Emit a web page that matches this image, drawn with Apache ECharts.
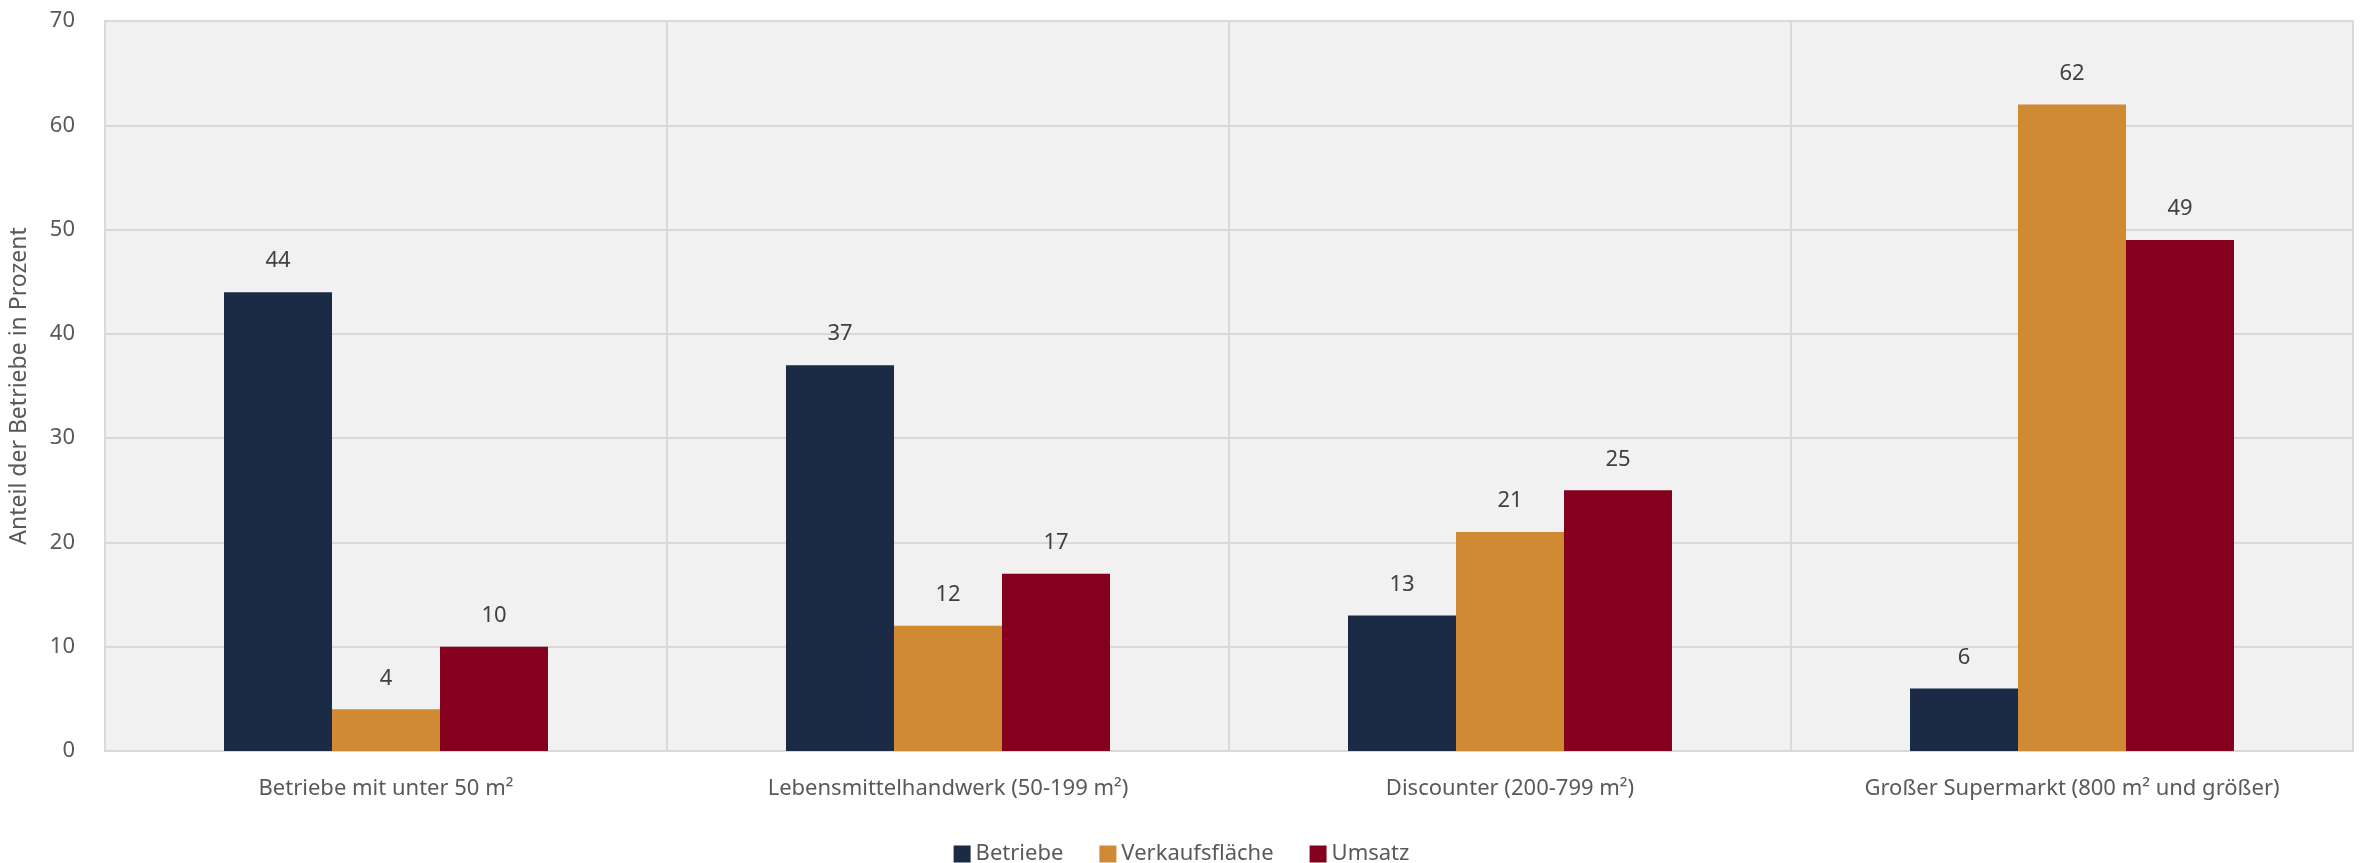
<!DOCTYPE html>
<html>
<head>
<meta charset="utf-8">
<script src="https://cdn.jsdelivr.net/npm/echarts@6/dist/echarts.min.js"></script>
<style>
  html, body { margin: 0; padding: 0; background: #fff; }
  #chart { width: 2363px; height: 863px; }
</style>
</head>
<body>
<div id="chart"></div>
<script>
const categories = [
  'Betriebe mit unter 50 m²',
  'Lebensmittelhandwerk (50-199 m²)',
  'Discounter (200-799 m²)',
  'Großer Supermarkt (800 m² und größer)'
]
const betriebe = [44, 37, 13, 6]
const verkaufsflaeche = [4, 12, 21, 62]
const umsatz = [10, 17, 25, 49]

const font = 'Noto Sans'

const chart = echarts.init(document.getElementById('chart'))

const barSeries = (name, data, color) => ({
  name,
  type: 'bar',
  data,
  barWidth: 108,
  barGap: '0%',
  itemStyle: { color },
  label: {
    show: true,
    position: 'top',
    distance: 20,
    color: '#404040',
    fontFamily: font,
    fontSize: 22
  }
})

chart.setOption({
  textStyle: { fontFamily: font },
  grid: {
    left: 105,
    right: 10,
    top: 21,
    bottom: 112,
    show: true,
    backgroundColor: '#f1f1f1',
    borderColor: '#d9d9d9',
    borderWidth: 2
  },
  legend: {
    bottom: -7,
    left: 'center',
    itemWidth: 17,
    itemHeight: 17,
    itemGap: 36,
    icon: 'rect',
    textStyle: { color: '#595959', fontSize: 22, fontFamily: font }
  },
  xAxis: {
    type: 'category',
    data: categories,
    axisLine: { show: true, lineStyle: { color: '#d9d9d9', width: 2 } },
    axisTick: { show: false },
    splitLine: { show: true, lineStyle: { color: '#d9d9d9', width: 2 } },
    axisLabel: { color: '#595959', fontSize: 22, margin: 27, fontFamily: font }
  },
  yAxis: {
    type: 'value',
    min: 0,
    max: 70,
    interval: 10,
    name: 'Anteil der Betriebe in Prozent',
    nameLocation: 'middle',
    nameGap: 74,
    nameTextStyle: { color: '#595959', fontSize: 23, fontFamily: font },
    axisLine: { show: false },
    axisTick: { show: false },
    splitLine: { lineStyle: { color: '#d9d9d9', width: 2 } },
    axisLabel: { color: '#595959', fontSize: 22, margin: 30, fontFamily: font }
  },
  series: [
    barSeries('Betriebe', betriebe, '#1b2a45'),
    barSeries('Verkaufsfläche', verkaufsflaeche, '#d08a33'),
    barSeries('Umsatz', umsatz, '#84001e')
  ]
})
</script>
</body>
</html>
